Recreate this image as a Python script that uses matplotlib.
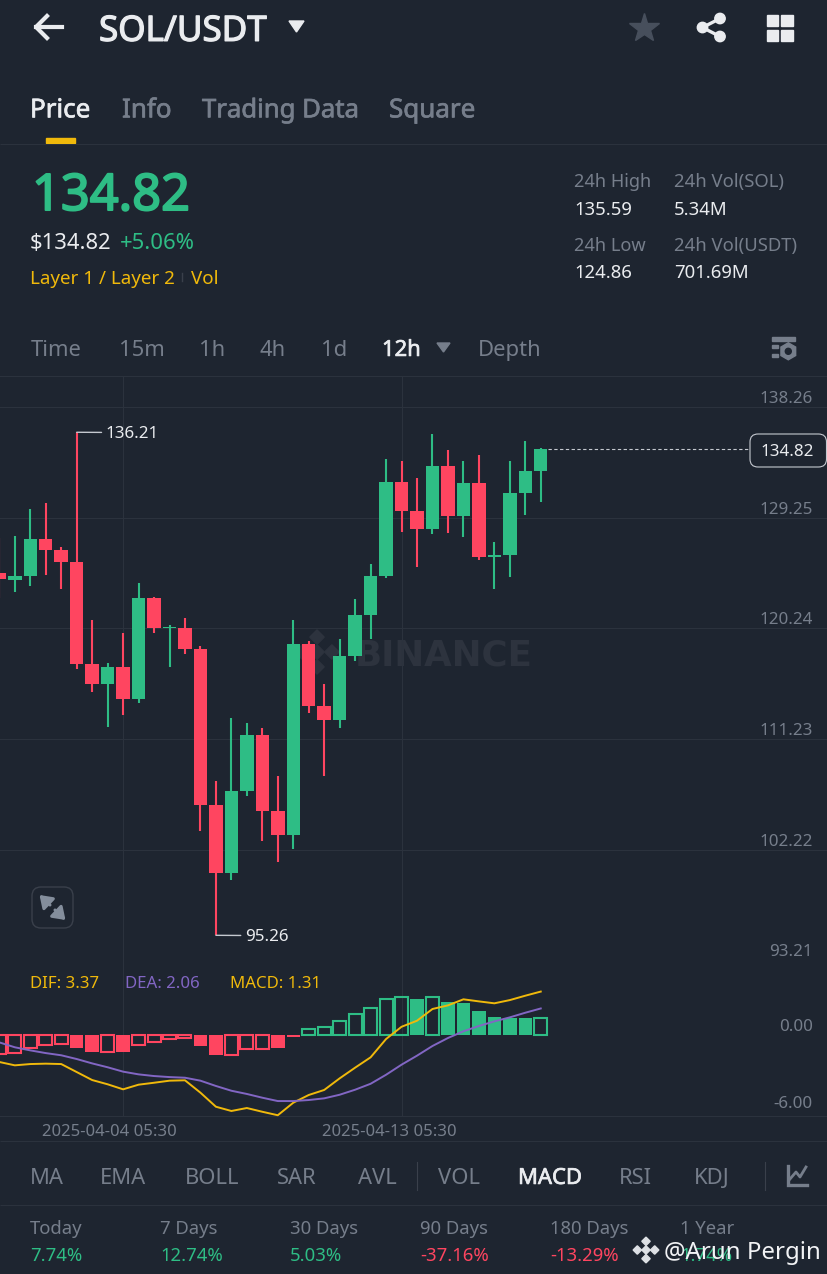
import matplotlib
matplotlib.use("Agg")
import matplotlib.pyplot as plt
import matplotlib.patheffects as pe
from matplotlib.patches import Circle, FancyBboxPatch, Polygon, Rectangle, RegularPolygon

BG = "#1E2530"
GRID = "#2B323D"
GREEN = "#2EBD85"
RED = "#FF4560"
YELLOW = "#F0B90B"
PURPLE = "#8266C4"
WHITE = "#EAECEF"
GREY = "#767E8B"

# 12h candles, oldest first
opens = [124.78, 124.21, 124.51, 127.55, 126.63, 125.65, 117.37, 115.72, 117.13, 114.47, 122.74, 120.25,
         120.25, 118.57, 105.89, 100.31, 106.99, 111.54, 105.38, 103.43, 119.00, 113.93, 112.81, 117.99,
         121.36, 124.54, 132.16, 129.78, 128.33, 133.44, 129.37, 132.08, 126.08, 126.22, 131.27, 133.06]
closes = [124.24, 124.49, 127.55, 126.63, 125.65, 117.37, 115.72, 117.13, 114.47, 122.74, 120.25, 120.38,
          118.57, 105.89, 100.31, 106.99, 111.54, 105.38, 103.43, 119.00, 113.93, 112.81, 117.99, 121.36,
          124.54, 132.16, 129.78, 128.33, 133.44, 129.37, 132.08, 126.08, 126.22, 131.27, 133.03, 134.82]
highs = [127.58, 127.74, 129.94, 130.48, 126.89, 136.21, 120.90, 117.40, 119.89, 123.97, 122.80, 120.50,
         121.09, 118.81, 107.80, 112.98, 112.57, 112.16, 108.23, 120.93, 119.25, 115.72, 119.36, 122.61,
         125.46, 134.03, 133.89, 132.49, 136.07, 134.74, 133.85, 134.38, 127.28, 133.85, 135.52, 134.95]
lows = [122.74, 123.18, 123.70, 124.60, 123.45, 116.97, 115.09, 112.22, 113.20, 114.17, 119.85, 117.10,
        118.14, 103.78, 95.26, 99.74, 106.63, 102.94, 101.26, 102.29, 113.36, 108.21, 112.14, 117.57,
        119.38, 124.37, 128.12, 125.27, 127.93, 128.01, 127.66, 125.79, 123.45, 124.40, 129.45, 130.51]

dif = [-2.09, -2.35, -2.25, -2.22, -2.25, -2.87, -3.49, -3.82, -4.21, -3.85, -3.70, -3.54,
       -3.51, -4.47, -5.56, -5.89, -5.66, -5.95, -6.22, -5.25, -4.65, -4.26, -3.36, -2.53,
       -1.73, -0.31, 0.64, 1.11, 2.02, 2.30, 2.77, 2.61, 2.46, 2.71, 3.05, 3.37]
dea = [-0.57, -0.95, -1.19, -1.40, -1.57, -1.86, -2.20, -2.50, -2.84, -3.05, -3.18, -3.26,
       -3.31, -3.54, -3.95, -4.32, -4.57, -4.86, -5.12, -5.12, -5.04, -4.91, -4.63, -4.24,
       -3.78, -3.08, -2.30, -1.60, -0.85, -0.23, 0.29, 0.70, 1.06, 1.37, 1.73, 2.06]
macd = [-1.50, -1.40, -1.01, -0.78, -0.67, -1.01, -1.29, -1.32, -1.34, -0.80, -0.54, -0.31,
        -0.23, -0.85, -1.58, -1.55, -1.09, -1.09, -1.03, -0.15, 0.44, 0.64, 1.11, 1.63,
        2.07, 2.79, 2.95, 2.79, 2.97, 2.58, 2.45, 1.83, 1.37, 1.29, 1.29, 1.31]
macd_hollow = [1, 1, 1, 1, 1, 0, 0, 1, 0, 1, 1, 1,
               1, 0, 0, 1, 1, 1, 0, 0, 1, 1, 1, 1,
               1, 1, 1, 0, 1, 0, 0, 0, 0, 0, 0, 1]

price_ticks = [138.26, 129.25, 120.24, 111.23, 102.22, 93.21]
macd_ticks = [0.00, -6.00]
date_ticks = [8, 26]
date_labels = ["2025-04-04 05:30", "2025-04-13 05:30"]
last_price = 134.82

W, H = 828, 1274
plt.rcParams["font.family"] = ["Noto Sans", "DejaVu Sans"]

fig = plt.figure(figsize=(W / 100, H / 100), dpi=100, facecolor=BG)

# whole-page layer in pixel coordinates for the app chrome
ui = fig.add_axes([0, 0, 1, 1], zorder=0)
ui.set_xlim(0, W)
ui.set_ylim(H, 0)
ui.axis("off")


def label(x, y, s, px, color=GREY, stroke=0, ha="left", z=6):
    t = ui.text(x, y + px * 0.11, s, fontsize=px * 0.72, color=color, ha=ha, va="center", zorder=z)
    # the installed Noto has no medium weight, a thin outline thickens it
    if stroke:
        t.set_path_effects([pe.withStroke(linewidth=stroke, foreground=color)])
    return t


def hline(y, x0=0, x1=W, color=GRID, lw=1.0):
    ui.plot([x0, x1], [y, y], color=color, lw=lw * 0.72, solid_capstyle="butt")


def logo(cx, cy, r, color, z=1):
    # Binance diamond mark
    s = r * 0.3
    for dx, dy in [(0, -r * 0.62), (0, r * 0.62), (-r * 0.62, 0), (r * 0.62, 0), (0, 0)]:
        ui.add_patch(Polygon([(cx + dx, cy + dy - s), (cx + dx + s, cy + dy), (cx + dx, cy + dy + s),
                              (cx + dx - s, cy + dy)], color=color, zorder=z))


# header
ui.plot([36, 62], [27, 27], color=WHITE, lw=3)
ui.plot([47, 36, 47], [16, 27, 38], color=WHITE, lw=3)
label(99, 28, "SOL/USDT", 35, WHITE, stroke=0.9)
ui.add_patch(Polygon([(289, 21), (304, 21), (296.5, 32)], color=WHITE))
ui.plot([644], [28], marker="*", ms=22, color="#474F5C", mec="#474F5C")
for px, py in [(720, 18.5), (720, 36.5)]:
    ui.plot([702.5, px], [27.5, py], color=WHITE, lw=2.4)
    ui.add_patch(Circle((px, py), 5.2, color=WHITE))
ui.add_patch(Circle((702.5, 27.5), 5.2, color=WHITE))
for gx in [767, 781.5]:
    for gy in [15, 30]:
        ui.add_patch(Rectangle((gx, gy), 11.5, 11, color=WHITE))

# tabs
label(30, 108, "Price", 26, WHITE, stroke=0.5)
label(122, 108, "Info", 26, GREY, stroke=0.5)
label(202, 108, "Trading Data", 25.7, GREY, stroke=0.5)
label(389, 108, "Square", 26, GREY, stroke=0.5)
ui.add_patch(Rectangle((46, 138), 29, 5, color=YELLOW))
hline(143.5)

# price block
label(32, 191, "134.82", 50.5, GREEN, stroke=1.4)
label(30, 241, "$134.82", 22, WHITE)
label(120, 241, "+5.06%", 22, GREEN)
label(30, 277, "Layer 1 / Layer 2", 18.8, YELLOW)
ui.plot([182, 182], [273, 281], color="#3A404B", lw=1)
label(191, 277, "Vol", 18.8, YELLOW)
label(574, 180, "24h High", 18.2)
label(574, 208, "135.59", 18.5, WHITE)
label(574, 244, "24h Low", 18.2)
label(574, 271, "124.86", 18.5, WHITE)
label(674, 180, "24h Vol(SOL)", 18.5)
label(674, 208, "5.34M", 18.5, WHITE)
label(674, 244, "24h Vol(USDT)", 18.5)
label(674, 271, "701.69M", 18.5, WHITE)

# interval row
for x, s in [(31, "Time"), (119, "15m"), (199, "1h"), (260, "4h"), (321, "1d"), (478, "Depth")]:
    label(x, 348, s, 22)
label(382, 348, "12h", 22, WHITE, stroke=0.5)
ui.add_patch(Polygon([(437, 343), (450, 343), (443.5, 352)], color=GREY))
ui.add_patch(Rectangle((772, 337), 23, 4, color=GREY))
ui.add_patch(Rectangle((772, 345), 6, 3, color=GREY))
ui.add_patch(Rectangle((772, 354), 6, 3, color=GREY))
ui.add_patch(RegularPolygon((788.3, 351.3), 6, radius=8.5, color=GREY))
ui.add_patch(Circle((788.3, 351.3), 3, color=BG))

# watermark sits under the candles
logo(317, 652, 24, "#2D333E")
ui.text(355, 655, "BINANCE", fontsize=35.6 * 0.72, color="#2D333E", fontweight="bold", va="center",
        family="DejaVu Sans", zorder=1)

# price pane
ax = fig.add_axes([0, 1 - 960.5 / H, 1, (960.5 - 376) / H], zorder=2)
ax.patch.set_alpha(0)
ax.set_xlim(0.042, 53.57)
ax.set_ylim(93.21, 140.79)
for s in ax.spines.values():
    s.set_visible(False)
ax.spines["top"].set_visible(True)
ax.spines["top"].set_color(GRID)
ax.spines["top"].set_linewidth(0.72)

x = list(range(len(opens)))
colors = [GREEN if c >= o else RED for o, c in zip(opens, closes)]
ax.vlines(x, lows, highs, colors=colors, lw=1.5, zorder=3)
ax.bar(x, [abs(c - o) for o, c in zip(opens, closes)], bottom=[min(o, c) for o, c in zip(opens, closes)],
       width=0.87, color=colors, zorder=4)

ax.set_yticks(price_ticks)
ax.set_yticklabels([f"{t:.2f}" for t in price_ticks])
ax.set_xticks(date_ticks)
ax.tick_params(axis="x", length=0, labelbottom=False)
ax.tick_params(axis="y", length=0, labelleft=False, labelright=True, pad=-11, colors=GREY, labelsize=17 * 0.72)
plt.setp(ax.get_yticklabels(), ha="right", va="bottom")
ax.grid(True, color=GRID, lw=0.8)
ax.set_axisbelow(True)

for idx, val in [(5, highs[5]), (14, lows[14])]:
    ax.annotate(f"{val:.2f}", xy=(idx, val), xytext=(29 * 0.72, -1.5), textcoords="offset points", va="center",
                color=WHITE, fontsize=17 * 0.72,
                arrowprops=dict(arrowstyle="-", color="#C5C9D0", lw=1.0, shrinkA=1, shrinkB=0,
                                relpos=(0, 0.62)))

ax.hlines(last_price, 35.5, 48.42, colors="#C5C9D0", linestyles=(0, (3, 2.2)), lw=0.8, zorder=3)

# last price tag
ui.add_patch(FancyBboxPatch((750, 434), 76.5, 33, boxstyle="round,pad=0,rounding_size=8", lw=0.8,
                            ec="#C5C9D0", fc=BG, zorder=5))
label(787.5, 450, "134.82", 17, WHITE, ha="center")

# expand button
ui.add_patch(FancyBboxPatch((32, 887), 41, 41, boxstyle="round,pad=0,rounding_size=9", lw=1, ec="#3A404B", fc="none"))
for tail, tip in [((50, 905), (39.5, 895)), ((55, 910), (65.5, 920))]:
    ui.annotate("", xy=tip, xytext=tail,
                arrowprops=dict(arrowstyle="-|>,head_length=0.55,head_width=0.38", color="#848E9C", lw=2.2,
                                shrinkA=0, shrinkB=0, mutation_scale=13))

# macd pane
bx = fig.add_axes([0, 1 - 1115.5 / H, 1, (1115.5 - 960.5) / H], zorder=2)
bx.patch.set_alpha(0)
bx.set_xlim(0.042, 53.57)
bx.set_ylim(-6.24, 5.78)
for s in bx.spines.values():
    s.set_visible(False)
bx.spines["bottom"].set_visible(True)
bx.spines["bottom"].set_color(GRID)
bx.spines["bottom"].set_linewidth(0.72)

hist_colors = [GREEN if v >= 0 else RED for v in macd]
for i, v, col, hollow in zip(x, macd, hist_colors, macd_hollow):
    if hollow:
        bx.bar(i, v, width=0.84, facecolor="none", edgecolor=col, lw=1.5, zorder=3)
    else:
        bx.bar(i, v, width=0.87, color=col, zorder=3)
bx.plot(x, dif, color=YELLOW, lw=1.4, zorder=4, clip_on=False)
bx.plot(x, dea, color=PURPLE, lw=1.4, zorder=4)

bx.set_yticks(macd_ticks)
bx.set_yticklabels([f"{t:.2f}" for t in macd_ticks])
bx.set_xticks(date_ticks)
bx.tick_params(axis="x", length=0, labelbottom=False)
bx.tick_params(axis="y", length=0, labelleft=False, labelright=True, pad=-11, colors=GREY, labelsize=17 * 0.72)
plt.setp(bx.get_yticklabels(), ha="right", va="bottom")
bx.grid(True, axis="x", color=GRID, lw=0.8)
bx.set_axisbelow(True)

# the app draws date labels left of their grid lines
for px, s in zip([42, 322], date_labels):
    label(px, 1130, s, 16.7)

label(30, 982, "DIF: 3.37", 16.8, YELLOW)
label(125, 982, "DEA: 2.06", 16.8, PURPLE)
label(230, 982, "MACD: 1.31", 16.8, YELLOW)

# indicator row
hline(1141)
for px, s in [(30, "MA"), (100, "EMA"), (185, "BOLL"), (277, "SAR"), (358, "AVL"), (438, "VOL"), (619, "RSI"), (694, "KDJ")]:
    label(px, 1176, s, 22)
label(518, 1176, "MACD", 22, WHITE, stroke=0.5)
for px in [417.5, 765]:
    ui.plot([px, px], [1162, 1190], color="#3A404B", lw=0.8)
ui.plot([788, 788, 807], [1166, 1185, 1185], color=GREY, lw=2.4, solid_joinstyle="miter")
ui.plot([790, 796, 800, 806], [1179, 1172, 1177, 1167], color=GREY, lw=2)
hline(1204.5)

# returns row
periods = ["Today", "7 Days", "30 Days", "90 Days", "180 Days", "1 Year"]
returns = ["7.74%", "12.74%", "5.03%", "-37.16%", "-13.29%", "1.74%"]
for px, p, r in zip([30, 160, 290, 420, 550, 680], periods, returns):
    label(px, 1227, p, 18.5)
    label(px, 1254, r, 18.5, RED if r.startswith("-") else GREEN)

# overlay watermark
logo(646, 1250, 14, "#DDE0E4", z=7)
label(664, 1250, "@Arun Pergin", 24, "#F2F3F5", z=8)

fig.savefig("out.png", dpi=100, facecolor=BG)
